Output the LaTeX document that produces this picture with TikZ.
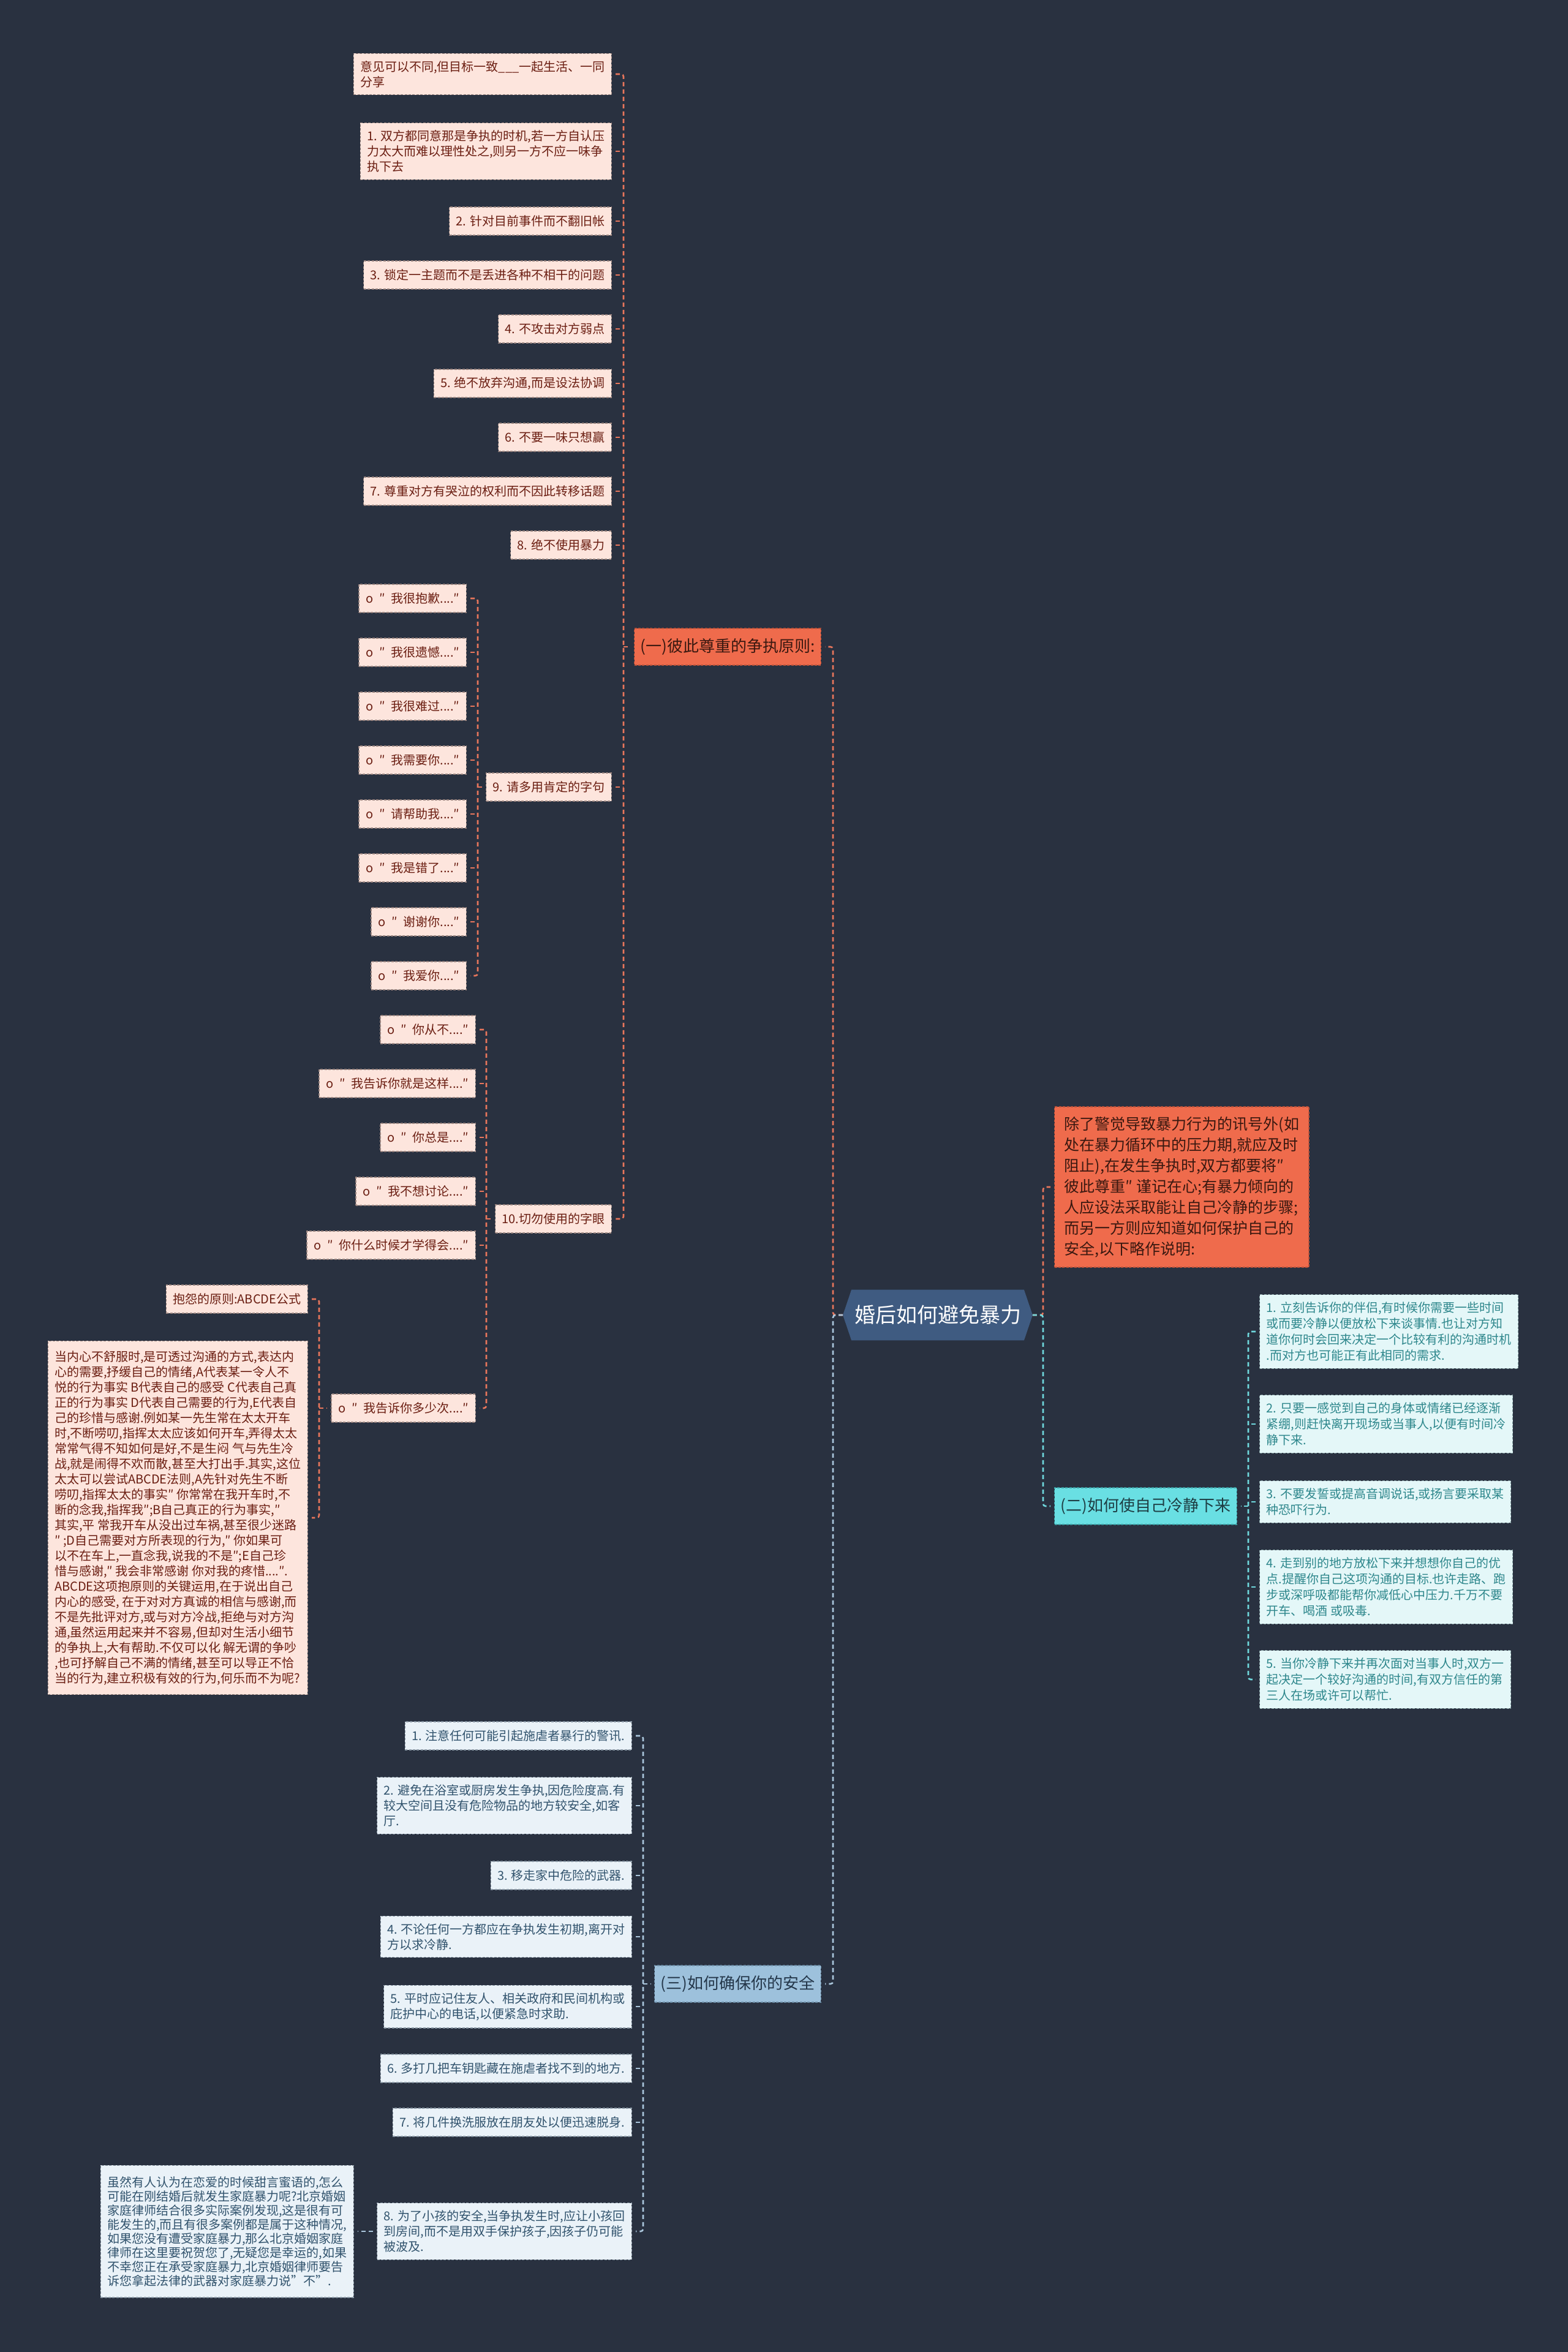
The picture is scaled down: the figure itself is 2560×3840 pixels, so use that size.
\documentclass[tikz,border=0pt]{standalone}
\usepackage{fontspec}
\setmainfont{Noto Sans CJK SC}
\usepackage{xcolor}
\usepackage{tikz}
\usetikzlibrary{calc, positioning, backgrounds}
\definecolor{bgnavy}{HTML}{293140}
\definecolor{rootblue}{HTML}{3F5B81}
\definecolor{redfill}{HTML}{EF6B4C}
\definecolor{rededge}{HTML}{B9513A}
\definecolor{redtext}{HTML}{3A1810}
\definecolor{peach}{HTML}{FDE5DD}
\definecolor{peachedge}{HTML}{9A8580}
\definecolor{peachtext}{HTML}{6B1E12}
\definecolor{redwire}{HTML}{E8765C}
\definecolor{cyanfill}{HTML}{69DFE3}
\definecolor{cyanedge}{HTML}{3B9EA3}
\definecolor{cyantext}{HTML}{1E3E44}
\definecolor{mint}{HTML}{E4F7F8}
\definecolor{mintedge}{HTML}{8AA5A8}
\definecolor{minttext}{HTML}{2E878C}
\definecolor{cyanwire}{HTML}{6FD7DC}
\definecolor{bluefill}{HTML}{9DC1DC}
\definecolor{blueedge}{HTML}{6A8AA3}
\definecolor{bluetext}{HTML}{24374A}
\definecolor{ice}{HTML}{EAF2F8}
\definecolor{iceedge}{HTML}{8A98A5}
\definecolor{icetext}{HTML}{31536D}
\definecolor{bluewire}{HTML}{AAC6DC}

\begin{document}
\begin{tikzpicture}[
        x=0.5pt, y=-0.5pt,
        box/.style = {draw, rectangle, align=left, line width=0.6pt, dash pattern=on 2pt off 1.2pt, inner xsep=5.5pt, inner ysep=6pt, minimum height=23pt},
        leafred/.style = {box, fill=peach, draw=peachedge, text=peachtext, font=\fontsize{10}{12.5}\selectfont},
        leafcyan/.style = {box, fill=mint, draw=mintedge, text=minttext, font=\fontsize{10}{13}\selectfont},
        leafblue/.style = {box, fill=ice, draw=iceedge, text=icetext, font=\fontsize{10}{12.5}\selectfont},
        branchred/.style = {box, fill=redfill, draw=rededge, text=redtext, font=\fontsize{13}{16}\selectfont, minimum height=30pt, inner xsep=5pt},
        branchcyan/.style = {branchred, fill=cyanfill, draw=cyanedge, text=cyantext},
        branchblue/.style = {branchred, fill=bluefill, draw=blueedge, text=bluetext},
        notered/.style = {box, fill=redfill, draw=rededge, text=redtext, font=\fontsize{12.5}{17}\selectfont, inner xsep=8pt, inner ysep=8pt},
        rootbox/.style = {rectangle, minimum width=140.5pt, minimum height=41pt, inner sep=0pt, text=white, font=\fontsize{17}{20}\selectfont},
        wire/.style = {line width=1.3pt, dash pattern=on 3.5pt off 2.5pt, rounded corners=2pt},
        tip/.style = {wire, shorten <=3pt}
    ]

        % Root
        \node (root) [rootbox] at (1531,2147) {婚后如何避免暴力};
        \coordinate (rootL) at ($(root.west)+(-14,0)$);
        \coordinate (rootR) at ($(root.east)+(14,0)$);

        % (一) Branch
        \node (br1) [branchred, anchor=east] at (1341,1056) {(一)彼此尊重的争执原则:};
        \node (p0) [leafred, anchor=east] at (999,121) {意见可以不同,但目标一致\_\_\_一起生活、一同\\分享};
        \node (p1) [leafred, anchor=east] at (999,247) {1. 双方都同意那是争执的时机,若一方自认压\\力太大而难以理性处之,则另一方不应一味争\\执下去};
        \node (p2) [leafred, anchor=east] at (999,361) {2. 针对目前事件而不翻旧帐};
        \node (p3) [leafred, anchor=east] at (999,449) {3. 锁定一主题而不是丢进各种不相干的问题};
        \node (p4) [leafred, anchor=east] at (999,537) {4. 不攻击对方弱点};
        \node (p5) [leafred, anchor=east] at (999,626) {5. 绝不放弃沟通,而是设法协调};
        \node (p6) [leafred, anchor=east] at (999,714) {6. 不要一味只想赢};
        \node (p7) [leafred, anchor=east] at (999,802) {7. 尊重对方有哭泣的权利而不因此转移话题};
        \node (p8) [leafred, anchor=east] at (999,890) {8. 绝不使用暴力};
        \node (g9) [leafred, anchor=east] at (999,1285) {9. 请多用肯定的字句};
        \node (g10) [leafred, anchor=east] at (999,1990) {10.切勿使用的字眼};

        % 9. Words to use
        \node (q1) [leafred, anchor=east] at (762,977) {o\enspace{}″\enspace{}我很抱歉....″};
        \node (q2) [leafred, anchor=east] at (762,1065) {o\enspace{}″\enspace{}我很遗憾....″};
        \node (q3) [leafred, anchor=east] at (762,1153) {o\enspace{}″\enspace{}我很难过....″};
        \node (q4) [leafred, anchor=east] at (762,1241) {o\enspace{}″\enspace{}我需要你....″};
        \node (q5) [leafred, anchor=east] at (762,1329) {o\enspace{}″\enspace{}请帮助我....″};
        \node (q6) [leafred, anchor=east] at (762,1417) {o\enspace{}″\enspace{}我是错了....″};
        \node (q7) [leafred, anchor=east] at (762,1505) {o\enspace{}″\enspace{}谢谢你....″};
        \node (q8) [leafred, anchor=east] at (762,1593) {o\enspace{}″\enspace{}我爱你....″};

        % 10. Words to avoid
        \node (r1) [leafred, anchor=east] at (777,1681) {o\enspace{}″\enspace{}你从不....″};
        \node (r2) [leafred, anchor=east] at (777,1769) {o\enspace{}″\enspace{}我告诉你就是这样....″};
        \node (r3) [leafred, anchor=east] at (777,1857) {o\enspace{}″\enspace{}你总是....″};
        \node (r4) [leafred, anchor=east] at (777,1945) {o\enspace{}″\enspace{}我不想讨论....″};
        \node (r5) [leafred, anchor=east] at (777,2033) {o\enspace{}″\enspace{}你什么时候才学得会....″};
        \node (r6) [leafred, anchor=east] at (777,2299) {o\enspace{}″\enspace{}我告诉你多少次....″};

        % ABCDE
        \node (abc) [leafred, anchor=east] at (503,2121) {抱怨的原则:ABCDE公式};
        \node (abcde) [leafred, anchor=east, inner ysep=8pt] at (503,2478) {当内心不舒服时,是可透过沟通的方式,表达内\\心的需要,抒缓自己的情绪,A代表某一令人不\\悦的行为事实 B代表自己的感受 C代表自己真\\正的行为事实 D代表自己需要的行为,E代表自\\己的珍惜与感谢.例如某一先生常在太太开车\\时,不断唠叨,指挥太太应该如何开车,弄得太太\\常常气得不知如何是好,不是生闷 气与先生冷\\战,就是闹得不欢而散,甚至大打出手.其实,这位\\太太可以尝试ABCDE法则,A先针对先生不断\\唠叨,指挥太太的事实″ 你常常在我开车时,不\\断的念我,指挥我″;B自己真正的行为事实,″\\其实,平 常我开车从没出过车祸,甚至很少迷路\\″ ;D自己需要对方所表现的行为,″ 你如果可\\以不在车上,一直念我,说我的不是″;E自己珍\\惜与感谢,″ 我会非常感谢 你对我的疼惜....″.\\ABCDE这项抱原则的关键运用,在于说出自己\\内心的感受, 在于对对方真诚的相信与感谢,而\\不是先批评对方,或与对方冷战,拒绝与对方沟\\通,虽然运用起来并不容易,但却对生活小细节\\的争执上,大有帮助.不仅可以化 解无谓的争吵\\,也可抒解自己不满的情绪,甚至可以导正不恰\\当的行为,建立积极有效的行为,何乐而不为呢?};

        % Note
        \node (desc) [notered, anchor=west] at (1721,1938) {除了警觉导致暴力行为的讯号外(如\\处在暴力循环中的压力期,就应及时\\阻止),在发生争执时,双方都要将″\\彼此尊重″ 谨记在心;有暴力倾向的\\人应设法采取能让自己冷静的步骤;\\而另一方则应知道如何保护自己的\\安全,以下略作说明:};

        % (二) Branch
        \node (br2) [branchcyan, anchor=west] at (1721,2459) {(二)如何使自己冷静下来};
        \node (c1) [leafcyan, anchor=west] at (2056,2174) {1. 立刻告诉你的伴侣,有时候你需要一些时间\\或而要冷静以便放松下来谈事情.也让对方知\\道你何时会回来决定一个比较有利的沟通时机\\.而对方也可能正有此相同的需求.};
        \node (c2) [leafcyan, anchor=west] at (2056,2325) {2. 只要一感觉到自己的身体或情绪已经逐渐\\紧绷,则赶快离开现场或当事人,以便有时间冷\\静下来.};
        \node (c3) [leafcyan, anchor=west] at (2056,2452) {3. 不要发誓或提高音调说话,或扬言要采取某\\种恐吓行为.};
        \node (c4) [leafcyan, anchor=west] at (2056,2591) {4. 走到别的地方放松下来并想想你自己的优\\点.提醒你自己这项沟通的目标.也许走路、跑\\步或深呼吸都能帮你减低心中压力.千万不要\\开车、喝酒 或吸毒.};
        \node (c5) [leafcyan, anchor=west] at (2056,2742) {5. 当你冷静下来并再次面对当事人时,双方一\\起决定一个较好沟通的时间,有双方信任的第\\三人在场或许可以帮忙.};

        % (三) Branch
        \node (br3) [branchblue, anchor=east] at (1341,3239) {(三)如何确保你的安全};
        \node (b1) [leafblue, anchor=east] at (1032,2834) {1. 注意任何可能引起施虐者暴行的警讯.};
        \node (b2) [leafblue, anchor=east] at (1032,2948) {2. 避免在浴室或厨房发生争执,因危险度高.有\\较大空间且没有危险物品的地方较安全,如客\\厅.};
        \node (b3) [leafblue, anchor=east] at (1032,3062) {3. 移走家中危险的武器.};
        \node (b4) [leafblue, anchor=east] at (1032,3162) {4. 不论任何一方都应在争执发生初期,离开对\\方以求冷静.};
        \node (b5) [leafblue, anchor=east] at (1032,3276) {5. 平时应记住友人、相关政府和民间机构或\\庇护中心的电话,以便紧急时求助.};
        \node (b6) [leafblue, anchor=east] at (1032,3377) {6. 多打几把车钥匙藏在施虐者找不到的地方.};
        \node (b7) [leafblue, anchor=east] at (1032,3465) {7. 将几件换洗服放在朋友处以便迅速脱身.};
        \node (b8) [leafblue, anchor=east] at (1032,3643) {8. 为了小孩的安全,当争执发生时,应让小孩回\\到房间,而不是用双手保护孩子,因孩子仍可能\\被波及.};
        \node (tail) [leafblue, anchor=east, font=\fontsize{10}{11.5}\selectfont, inner ysep=9pt] at (578,3643) {虽然有人认为在恋爱的时候甜言蜜语的,怎么\\可能在刚结婚后就发生家庭暴力呢?北京婚姻\\家庭律师结合很多实际案例发现,这是很有可\\能发生的,而且有很多案例都是属于这种情况,\\如果您没有遭受家庭暴力,那么北京婚姻家庭\\律师在这里要祝贺您了,无疑您是幸运的,如果\\不幸您正在承受家庭暴力,北京婚姻律师要告\\诉您拿起法律的武器对家庭暴力说"不".};

        % Trunks
        \coordinate (tL) at (1360,2147);
        \coordinate (tR) at (1703,2147);
        \coordinate (t1) at (1018,1056);
        \coordinate (t9) at (780,1285);
        \coordinate (t10) at (794,1990);
        \coordinate (t6) at (521,2299);
        \coordinate (t2) at (2038,2459);
        \coordinate (t3) at (1050,3239);

        % Wires
        \draw [wire, redwire, shorten >=3pt] (rootL) -- (tL) |- (br1.east);
        \draw [wire, bluewire, shorten >=3pt] (rootL) -- (tL) |- (br3.east);
        \draw [wire, redwire, shorten >=3pt] (rootR) -- (tR) |- (desc.west);
        \draw [wire, cyanwire, shorten >=3pt] (rootR) -- (tR) |- (br2.west);

        \draw [wire, redwire, shorten <=3pt, shorten >=3pt] (p0.east) -| (t1) |- (g10.east);
        \foreach \n in {p1,p2,p3,p4,p5,p6,p7,p8,g9} \draw [tip, redwire] (\n.east) -- (\n.east -| t1);
        \draw [wire, redwire, shorten >=3pt] (t1) -- (br1.west);

        \draw [wire, redwire, shorten <=3pt, shorten >=3pt] (q1.east) -| (t9) |- (q8.east);
        \foreach \i in {2,...,7} \draw [tip, redwire] (q\i.east) -- (q\i.east -| t9);
        \draw [wire, redwire, shorten >=3pt] (t9) -- (g9.west);

        \draw [wire, redwire, shorten <=3pt, shorten >=3pt] (r1.east) -| (t10) |- (r6.east);
        \foreach \i in {2,...,5} \draw [tip, redwire] (r\i.east) -- (r\i.east -| t10);
        \draw [wire, redwire, shorten >=3pt] (t10) -- (g10.west);

        \draw [wire, redwire, shorten <=3pt, shorten >=3pt] (abc.east) -| (t6) |- (abcde.east);
        \draw [wire, redwire, shorten >=3pt] (t6) -- (r6.west);

        \draw [wire, cyanwire, shorten <=3pt, shorten >=3pt] (c1.west) -| (t2) |- (c5.west);
        \foreach \i in {2,...,4} \draw [tip, cyanwire] (c\i.west) -- (c\i.west -| t2);
        \draw [wire, cyanwire, shorten >=3pt] (t2) -- (br2.east);

        \draw [wire, bluewire, shorten <=3pt, shorten >=3pt] (b1.east) -| (t3) |- (b8.east);
        \foreach \i in {2,...,7} \draw [tip, bluewire] (b\i.east) -- (b\i.east -| t3);
        \draw [wire, bluewire, shorten >=3pt] (t3) -- (br3.west);
        \draw [wire, bluewire, shorten <=3pt, shorten >=3pt] (b8.west) -- (tail.east);

        % Canvas and root shape
        \begin{scope}[on background layer]
            \fill [bgnavy] (0,0) rectangle (2560,3840);
            \fill [rootblue] (root.north west) -- (root.north east) -- (rootR) -- (root.south east) -- (root.south west) -- (rootL) -- cycle;
        \end{scope}
        \useasboundingbox (0,0) rectangle (2560,3840);

    \end{tikzpicture}
\end{document}
